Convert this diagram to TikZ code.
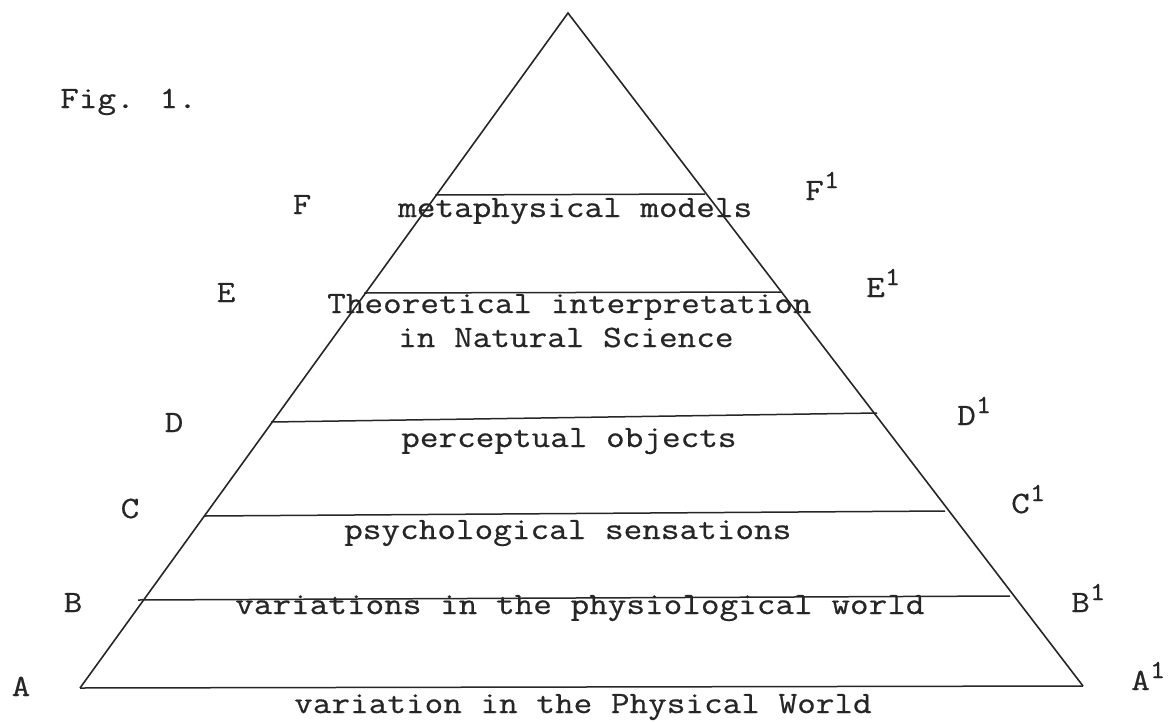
\documentclass[tikz,border=0pt]{standalone}
\usepackage{fontspec}
\setmainfont{Latin Modern Mono}[FakeStretch=1.167,FakeBold=0.6]
\begin{document}
\begin{tikzpicture}[x=1pt,y=-1pt,
  edge/.style={line width=1.6pt,black!85},
  level/.style={line width=1.5pt,black!85},
  txt/.style={anchor=base west,inner sep=0pt,font=\fontsize{31}{36}\selectfont,text=black!85},
  lbl/.style={anchor=base,inner sep=0pt,font=\fontsize{31}{36}\selectfont,text=black!85},
  rlbl/.style={anchor=base west,inner sep=0pt,font=\fontsize{31}{36}\selectfont,text=black!85}]
\newcommand{\supone}{\kern0pt\raisebox{12pt}{\fontsize{26}{26}\selectfont 1}}
\useasboundingbox (0,0) rectangle (1171,721);
% corners
\coordinate (top) at (568,13);
\coordinate (a) at (80,688);
\coordinate (a1) at (1083,686);
\draw[edge] (a) -- (top) -- (a1);
\draw[level] (a) -- (a1);
% level lines
\coordinate (f) at (435,195);  \coordinate (f1) at (705,194);
\coordinate (e) at (364,293);  \coordinate (e1) at (782,292);
\coordinate (d) at (271,422);  \coordinate (d1) at (877,413);
\coordinate (c) at (205,516);  \coordinate (c1) at (945,511);
\coordinate (b) at (138,600);  \coordinate (b1) at (1010,596);
\draw[level] (f) -- (f1);
\draw[level] (e) -- (e1);
\draw[level] (d) -- (d1);
\draw[level] (c) -- (c1);
\draw[level] (b) -- (b1);
% texts
\node[txt] (tf) at (398,217) {metaphysical models};
\node[txt] (te1) at (327,313) {Theoretical interpretation};
\node[txt] (te2) at (398,347) {in Natural Science};
\node[txt] (td) at (401,447) {perceptual objects};
\node[txt] (tc) at (344,539) {psychological sensations};
\node[txt] (tb) at (235,614) {variations in the physiological world};
\node[txt] (ta) at (294,713) {variation in the Physical World};
% labels
\node[rlbl] (fig) at (60,108) {Fig. 1.};
\node[lbl] (lf) at (302,214) {F};
\node[lbl] (le) at (226,302) {E};
\node[lbl] (ld) at (174,432) {D};
\node[lbl] (lc) at (130,518) {C};
\node[lbl] (lb) at (73,612) {B};
\node[lbl] (la) at (21,696) {A};
\node[rlbl] (lf1) at (805,200) {F\supone};
\node[rlbl] (le1) at (866,297) {E\supone};
\node[rlbl] (ld1) at (957,425) {D\supone};
\node[rlbl] (lc1) at (1011,513) {C\supone};
\node[rlbl] (lb1) at (1071,612) {B\supone};
\node[rlbl] (la1) at (1131,690) {A\supone};
\end{tikzpicture}
\end{document}
